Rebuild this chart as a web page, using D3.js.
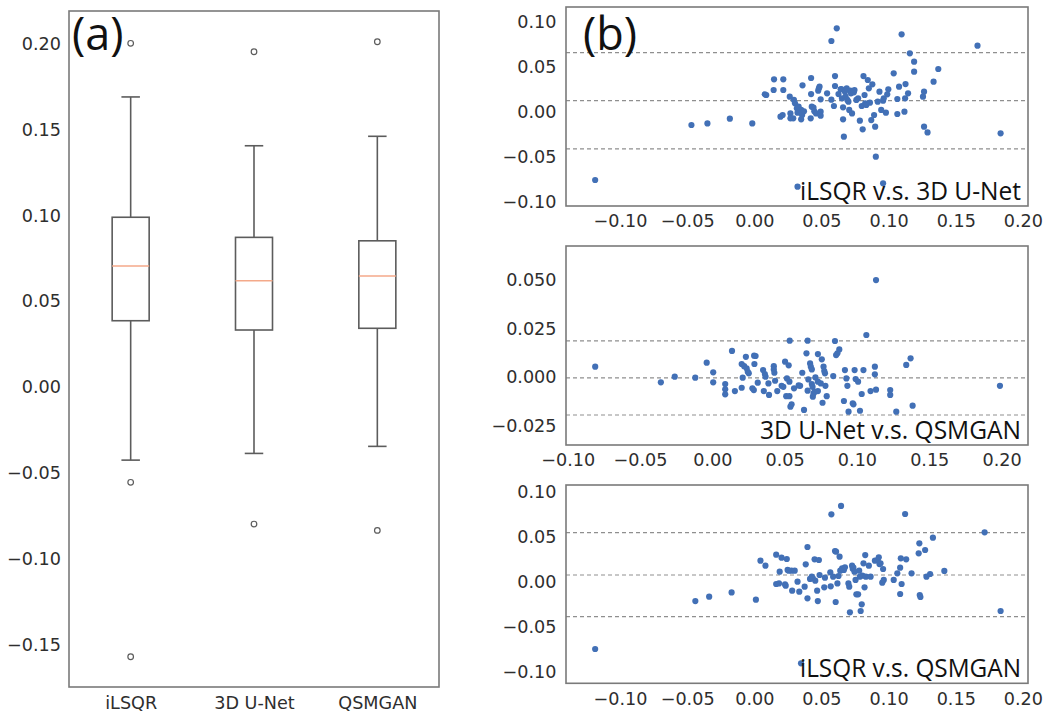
<!DOCTYPE html>
<html><head><meta charset="utf-8">
<script src="https://cdn.jsdelivr.net/npm/d3@7"></script>
<style>body{margin:0;background:#fff}svg{display:block}</style>
</head><body><svg id="c" width="1050" height="717"></svg>
<script>
// ---------- DATA ----------
const boxCategories = ["iLSQR", "3D U-Net", "QSMGAN"];
const boxWhiskerHigh = [0.1689, 0.1405, 0.1460];
const boxQ3 = [0.0989, 0.0872, 0.0852];
const boxMedian = [0.0705, 0.0620, 0.0647];
const boxQ1 = [0.0387, 0.0333, 0.0343];
const boxWhiskerLow = [-0.0424, -0.0385, -0.0344];
const boxOutliers = [[0.2001, -0.0553, -0.1568], [0.1952, -0.0796], [0.2010, -0.0833]];
const boxYTicks = [-0.15, -0.10, -0.05, 0.00, 0.05, 0.10, 0.15, 0.20];

const baXTicks = [-0.10, -0.05, 0.00, 0.05, 0.10, 0.15, 0.20];
const ba1YTicks = [-0.10, -0.05, 0.00, 0.05, 0.10];
const ba2YTicks = [-0.025, 0.000, 0.025, 0.050];
const ba3YTicks = [-0.10, -0.05, 0.00, 0.05, 0.10];

const ba1Labels = "iLSQR v.s. 3D U-Net";
const ba2Labels = "3D U-Net v.s. QSMGAN";
const ba3Labels = "iLSQR v.s. QSMGAN";

// mean difference and limits of agreement
const ba1Lines = [0.0656, 0.0122, -0.0414];
const ba2Lines = [0.0186, -0.0004, -0.0195];
const ba3Lines = [0.0544, 0.0074, -0.0389];

// [mean, difference]
const ba1Points = [
[-0.1185,-0.0759],[-0.0468,-0.0148],[-0.0349,-0.0130],[-0.0182,-0.0078],[-0.0015,-0.0130],
[0.0078,0.0193],[0.0089,0.0185],[0.0147,0.0359],[0.0144,0.0241],[0.0216,0.0359],
[0.0216,0.0241],[0.0195,-0.0056],[0.0211,-0.0037],[0.0264,0.0167],[0.0269,-0.0019],
[0.0269,-0.0074],[0.0290,-0.0074],[0.0295,0.0130],[0.0303,0.0093],[0.0317,0.0037],
[0.0322,-0.0011],[0.0330,0.0056],[0.0349,-0.0085],[0.0356,-0.0037],[0.0359,0.0293],
[0.0349,0.0019],[0.0370,0.0004],[0.0423,0.0374],[0.0423,0.0196],[0.0420,-0.0074],
[0.0428,0.0056],[0.0441,0.0044],[0.0447,0.0004],[0.0460,-0.0019],[0.0476,0.0233],
[0.0481,0.0259],[0.0486,0.0278],[0.0494,0.0137],[0.0494,0.0000],[0.0494,-0.0044],
[0.0542,0.0204],[0.0574,0.0133],[0.0593,0.0063],[0.0601,0.0285],[0.0601,0.0396],
[0.0574,0.0785],[0.0614,0.0926],[0.0627,0.0196],[0.0643,0.0248],[0.0648,0.0252],
[0.0653,0.0148],[0.0661,0.0048],[0.0661,-0.0085],[0.0667,-0.0278],[0.0675,0.0222],
[0.0680,0.0167],[0.0688,0.0259],[0.0693,0.0130],[0.0701,0.0111],[0.0707,0.0019],
[0.0715,0.0233],[0.0720,0.0204],[0.0728,-0.0019],[0.0741,0.0215],[0.0746,0.0241],
[0.0760,0.0130],[0.0773,0.0148],[0.0786,-0.0100],[0.0800,0.0063],[0.0807,-0.0196],
[0.0813,0.0396],[0.0821,0.0185],[0.0826,0.0093],[0.0834,0.0074],[0.0845,0.0352],
[0.0853,0.0259],[0.0861,0.0100],[0.0871,-0.0093],[0.0879,0.0304],[0.0892,-0.0037],
[0.0900,-0.0167],[0.0905,-0.0500],[0.0919,0.0111],[0.0932,0.0222],[0.0945,0.0019],
[0.0959,0.0122],[0.0964,0.0148],[0.0980,-0.0011],[0.0990,0.0193],[0.0998,0.0248],
[0.1038,0.0426],[0.1065,0.0141],[0.1065,-0.0026],[0.1078,0.0278],[0.1097,0.0859],
[0.1118,0.0000],[0.1123,0.0148],[0.1126,0.0307],[0.1145,0.0204],[0.1158,0.0648],
[0.1190,0.0556],[0.1190,0.0444],[0.1256,0.0167],[0.1264,0.0222],[0.1264,-0.0167],
[0.1290,-0.0230],[0.1335,0.0333],[0.1370,0.0474],[0.1662,0.0733],[0.1834,-0.0241],
[0.0322,-0.0833],[0.0959,-0.0796]
];
const ba2Points = [
[-0.0810,0.0053],[-0.0356,-0.0027],[-0.0260,0.0002],[-0.0118,-0.0003],[-0.0039,0.0074],
[0.0006,0.0024],[0.0006,-0.0027],[0.0089,-0.0036],[0.0089,-0.0063],[0.0089,-0.0089],
[0.0136,0.0134],[0.0156,-0.0072],[0.0203,0.0067],[0.0203,-0.0055],[0.0210,-0.0003],
[0.0220,0.0056],[0.0232,0.0104],[0.0237,0.0045],[0.0245,0.0027],[0.0252,0.0019],
[0.0289,0.0110],[0.0291,0.0067],[0.0299,0.0108],[0.0277,-0.0058],[0.0287,-0.0067],
[0.0314,-0.0029],[0.0351,0.0036],[0.0356,-0.0072],[0.0363,0.0015],[0.0368,0.0002],
[0.0388,-0.0033],[0.0392,-0.0092],[0.0425,0.0056],[0.0425,0.0039],[0.0429,0.0022],
[0.0434,-0.0019],[0.0449,-0.0072],[0.0479,-0.0045],[0.0491,-0.0050],[0.0503,0.0079],
[0.0511,-0.0098],[0.0516,-0.0007],[0.0528,0.0060],[0.0533,-0.0024],[0.0535,0.0187],
[0.0540,-0.0152],[0.0548,-0.0140],[0.0533,-0.0098],[0.0565,-0.0058],[0.0597,-0.0043],
[0.0607,-0.0045],[0.0622,0.0022],[0.0634,-0.0169],[0.0651,0.0122],[0.0659,0.0187],
[0.0659,-0.0070],[0.0664,-0.0012],[0.0676,0.0070],[0.0681,0.0053],[0.0688,0.0039],
[0.0688,-0.0036],[0.0693,-0.0050],[0.0695,-0.0101],[0.0700,-0.0084],[0.0708,-0.0075],
[0.0713,-0.0002],[0.0730,0.0118],[0.0730,-0.0024],[0.0730,-0.0072],[0.0750,-0.0033],
[0.0757,0.0091],[0.0762,-0.0132],[0.0769,0.0053],[0.0774,0.0031],[0.0779,0.0019],
[0.0782,-0.0045],[0.0791,-0.0098],[0.0836,0.0005],[0.0848,0.0185],[0.0856,0.0113],
[0.0865,0.0122],[0.0878,0.0142],[0.0910,-0.0123],[0.0917,0.0036],[0.0927,-0.0007],
[0.0934,-0.0045],[0.0942,-0.0178],[0.0971,-0.0135],[0.0976,-0.0140],[0.0984,0.0036],
[0.0991,-0.0010],[0.1008,-0.0024],[0.1021,-0.0173],[0.1033,-0.0087],[0.1045,0.0036],
[0.1065,0.0216],[0.1094,-0.0072],[0.1124,0.0014],[0.1124,0.0053],[0.1132,0.0498],
[0.1132,-0.0065],[0.1230,-0.0067],[0.1230,-0.0092],[0.1272,-0.0178],[0.1341,0.0062],
[0.1371,0.0096],[0.1385,-0.0147],[0.1989,-0.0045]
];
const ba3Points = [
[-0.1185,-0.0748],[-0.0439,-0.0215],[-0.0336,-0.0167],[-0.0169,-0.0119],[0.0012,-0.0200],
[0.0046,0.0233],[0.0083,0.0178],[0.0163,0.0300],[0.0163,-0.0026],[0.0189,0.0111],
[0.0184,-0.0019],[0.0203,0.0267],[0.0229,-0.0030],[0.0234,-0.0044],[0.0242,0.0252],
[0.0248,0.0130],[0.0256,0.0122],[0.0277,0.0122],[0.0282,-0.0100],[0.0301,0.0122],
[0.0322,0.0000],[0.0335,-0.0111],[0.0375,-0.0056],[0.0383,0.0193],[0.0396,0.0385],
[0.0396,-0.0185],[0.0415,0.0030],[0.0428,0.0056],[0.0436,0.0037],[0.0449,0.0248],
[0.0454,0.0011],[0.0468,-0.0100],[0.0473,-0.0215],[0.0481,0.0241],[0.0486,0.0074],
[0.0521,-0.0063],[0.0526,0.0044],[0.0574,0.0748],[0.0566,0.0104],[0.0569,-0.0052],
[0.0587,0.0056],[0.0601,0.0341],[0.0606,-0.0226],[0.0609,0.0333],[0.0619,-0.0019],
[0.0627,0.0063],[0.0635,0.0278],[0.0640,0.0122],[0.0646,0.0841],[0.0654,0.0148],
[0.0659,0.0137],[0.0667,0.0130],[0.0675,0.0159],[0.0701,-0.0019],[0.0707,-0.0056],
[0.0712,-0.0341],[0.0728,0.0178],[0.0733,0.0144],[0.0738,0.0156],[0.0746,0.0111],
[0.0754,0.0019],[0.0760,-0.0141],[0.0773,-0.0141],[0.0781,0.0122],[0.0786,0.0056],
[0.0792,-0.0326],[0.0800,-0.0252],[0.0805,0.0067],[0.0813,0.0204],[0.0821,-0.0063],
[0.0826,0.0296],[0.0831,0.0056],[0.0853,0.0178],[0.0866,0.0056],[0.0898,0.0233],
[0.0919,0.0241],[0.0927,0.0270],[0.0932,0.0196],[0.0940,0.0204],[0.0953,-0.0011],
[0.0959,0.0141],[0.0964,0.0019],[0.1038,0.0019],[0.1065,0.0093],[0.1086,-0.0137],
[0.1086,0.0156],[0.1091,0.0259],[0.1097,-0.0026],[0.1123,0.0752],[0.1131,0.0248],
[0.1171,0.0093],[0.1224,0.0315],[0.1229,0.0426],[0.1232,-0.0148],[0.1237,-0.0170],
[0.1272,0.0352],[0.1282,0.0056],[0.1309,0.0085],[0.1330,0.0489],[0.1415,0.0119],
[0.1715,0.0548],[0.1834,-0.0326],[0.0348,-0.0907]
];

// ---------- DRAW ----------
const svg = d3.select("#c");
const TICK_FONT = "'DejaVu Sans', sans-serif";
const TEXT_COL = "#2e2e2e";
const FRAME_COL = "#7a7a7a";

function styleAxis(g) {
  g.select(".domain").remove();
  g.selectAll(".tick line").remove();
  g.selectAll(".tick text").attr("font-family", TICK_FONT).attr("font-size", 17.6).attr("fill", TEXT_COL);
}

// Panel (a): box plot
const A = {x0: 69, x1: 439, y0: 11, y1: 687};
const xa = d3.scaleLinear().domain([0.5, 3.5]).range([A.x0, A.x1]);
const ya = d3.scaleLinear().domain([-0.1744, 0.2189]).range([A.y1, A.y0]);
const fmt2 = d3.format(".2f");

const ga = svg.append("g");
ga.append("g").attr("transform", `translate(${A.x0},0)`)
  .call(d3.axisLeft(ya).tickValues(boxYTicks).tickFormat(fmt2).tickSize(0).tickPadding(8))
  .call(styleAxis);
ga.append("g").attr("transform", `translate(0,${A.y1})`)
  .call(d3.axisBottom(xa).tickValues([1, 2, 3]).tickFormat((d, i) => boxCategories[i]).tickSize(0).tickPadding(10))
  .call(styleAxis);

const BOX_COL = "#5c5c5c";
boxCategories.forEach((c, i) => {
  const p = i + 1, hw = 0.15, cw = 0.075;
  const g = ga.append("g").attr("stroke", BOX_COL).attr("stroke-width", 1.6).attr("fill", "none");
  g.append("line").attr("x1", xa(p)).attr("x2", xa(p)).attr("y1", ya(boxQ3[i])).attr("y2", ya(boxWhiskerHigh[i]));
  g.append("line").attr("x1", xa(p)).attr("x2", xa(p)).attr("y1", ya(boxQ1[i])).attr("y2", ya(boxWhiskerLow[i]));
  g.append("line").attr("x1", xa(p - cw)).attr("x2", xa(p + cw)).attr("y1", ya(boxWhiskerHigh[i])).attr("y2", ya(boxWhiskerHigh[i]));
  g.append("line").attr("x1", xa(p - cw)).attr("x2", xa(p + cw)).attr("y1", ya(boxWhiskerLow[i])).attr("y2", ya(boxWhiskerLow[i]));
  g.append("rect").attr("x", xa(p - hw)).attr("y", ya(boxQ3[i]))
    .attr("width", xa(p + hw) - xa(p - hw)).attr("height", ya(boxQ1[i]) - ya(boxQ3[i]));
  ga.append("line").attr("x1", xa(p - hw)).attr("x2", xa(p + hw)).attr("y1", ya(boxMedian[i])).attr("y2", ya(boxMedian[i]))
    .attr("stroke", "#f4a98a").attr("stroke-width", 1.6);
  boxOutliers[i].forEach(v => {
    ga.append("circle").attr("cx", xa(p)).attr("cy", ya(v)).attr("r", 2.8)
      .attr("fill", "none").attr("stroke", BOX_COL).attr("stroke-width", 1.2);
  });
});
ga.append("rect").attr("x", A.x0).attr("y", A.y0).attr("width", A.x1 - A.x0).attr("height", A.y1 - A.y0)
  .attr("fill", "none").attr("stroke", FRAME_COL).attr("stroke-width", 1.6);
ga.append("text").attr("x", 72).attr("y", 50).text("(a)")
  .attr("font-family", "'Open Sans', sans-serif").attr("font-size", 45).attr("fill", "#111");

// Panel (b): Bland-Altman plots
const panels = [
  {frame: {x0: 566, x1: 1028, y0: 7, y1: 206}, xd: [-0.1402, 0.2038], yd: [-0.1048, 0.1163],
   yTicks: ba1YTicks, yFmt: d3.format(".2f"), pts: ba1Points, lines: ba1Lines, label: ba1Labels,
   labelY: 200, labelLen: 221},
  {frame: {x0: 566, x1: 1028, y0: 246, y1: 445}, xd: [-0.1012, 0.2183], yd: [-0.0349, 0.0673],
   yTicks: ba2YTicks, yFmt: d3.format(".3f"), pts: ba2Points, lines: ba2Lines, label: ba2Labels,
   labelY: 439, labelLen: 261},
  {frame: {x0: 566, x1: 1028, y0: 485, y1: 683.3}, xd: [-0.1402, 0.2038], yd: [-0.1129, 0.1074],
   yTicks: ba3YTicks, yFmt: d3.format(".2f"), pts: ba3Points, lines: ba3Lines, label: ba3Labels,
   labelY: 677, labelLen: 221}
];

panels.forEach((P, k) => {
  const F = P.frame;
  const x = d3.scaleLinear().domain(P.xd).range([F.x0, F.x1]);
  const y = d3.scaleLinear().domain(P.yd).range([F.y1, F.y0]);
  const g = svg.append("g");
  g.append("g").attr("transform", `translate(${F.x0},0)`)
    .call(d3.axisLeft(y).tickValues(P.yTicks).tickFormat(P.yFmt).tickSize(0).tickPadding(9.5))
    .call(styleAxis);
  g.append("g").attr("transform", `translate(0,${F.y1})`)
    .call(d3.axisBottom(x).tickValues(baXTicks).tickFormat(d3.format(".2f")).tickSize(0).tickPadding(9))
    .call(styleAxis);
  g.selectAll("line.ref").data(P.lines).join("line").attr("class", "ref")
    .attr("x1", F.x0).attr("x2", F.x1).attr("y1", d => y(d)).attr("y2", d => y(d))
    .attr("stroke", "#8f8f8f").attr("stroke-width", 1.2).attr("stroke-dasharray", "4,3");
  g.selectAll("circle").data(P.pts).join("circle")
    .attr("cx", d => x(d[0])).attr("cy", d => y(d[1])).attr("r", 3.1).attr("fill", "#4270b6");
  g.append("text").attr("x", 1021).attr("y", P.labelY).attr("text-anchor", "end")
    .attr("font-family", "'Open Sans', sans-serif").attr("font-size", 25).attr("fill", "#111")
    .attr("textLength", P.labelLen).attr("lengthAdjust", "spacingAndGlyphs").text(P.label);
  g.append("rect").attr("x", F.x0).attr("y", F.y0).attr("width", F.x1 - F.x0).attr("height", F.y1 - F.y0)
    .attr("fill", "none").attr("stroke", FRAME_COL).attr("stroke-width", 1.6);
});
svg.append("text").attr("x", 583).attr("y", 50).text("(b)")
  .attr("font-family", "'Open Sans', sans-serif").attr("font-size", 45).attr("fill", "#111");
</script>
</body></html>
